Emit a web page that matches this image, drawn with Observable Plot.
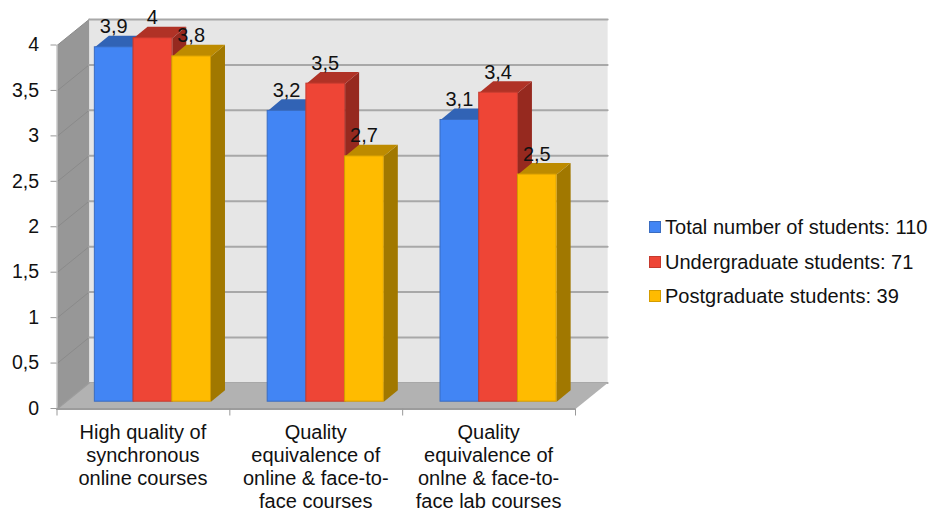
<!DOCTYPE html>
<html>
<head>
<meta charset="utf-8">
<script src="https://cdn.jsdelivr.net/npm/d3@7"></script>
<script src="https://cdn.jsdelivr.net/npm/@observablehq/plot@0.6"></script>
<style>
  html, body { margin: 0; padding: 0; background: #fff; }
  #chart { position: relative; width: 929px; height: 511px; font-family: "Liberation Sans", Arial, sans-serif; color: #111; }
  #chart svg { position: absolute; left: 0; top: 0; background: transparent; }
  .legend { position: absolute; left: 649px; top: 210px; font-size: 20.05px; line-height: 34.5px; white-space: nowrap; }
  .legend div { display: flex; align-items: center; }
  .legend i { display: block; width: 10px; height: 10px; margin-right: 4px; border: 1px solid; box-sizing: content-box; }
</style>
</head>
<body>
<div id="chart"></div>
<script>
const categories = [
  "High quality of\nsynchronous\nonline courses",
  "Quality\nequivalence of\nonline & face-to-\nface courses",
  "Quality\nequivalence of\nonlne & face-to-\nface lab courses"
];
const seriesNames = [
  "Total number of students: 110",
  "Undergraduate students: 71",
  "Postgraduate students: 39"
];
const totalStudents = [3.9, 3.2, 3.1];
const undergraduates = [4, 3.5, 3.4];
const postgraduates = [3.8, 2.7, 2.5];
const seriesValues = [totalStudents, undergraduates, postgraduates];
const valueTicks = [0, 0.5, 1, 1.5, 2, 2.5, 3, 3.5, 4];

const frontColors = ["#4285f4", "#ee4536", "#ffbb00"];
const edgeColors = ["#3a6cc0", "#c53a2e", "#d49c00"];
const topColors = ["#3163b5", "#b03226", "#bd8b00"];
const sideColors = ["#2a5499", "#96291f", "#a17800"];

// Oblique projection: how far one step into the depth of the box moves a point,
// in scale units on each axis.
const boxDepthX = 0.186, boxDepthY = 0.2865;
const barDepthX = 0.081, barDepthY = 0.127;
// Bars stand part of the way into the box, expressed as pixel offsets.
const barInsetX = 9.5, barInsetY = -7.3;
const groupPad = 0.164, barWidth = 0.224;

const decimalComma = d => String(d).replace(".", ",");
const face = (points, fill, extra = {}) =>
  Plot.line(points, {x: "x", y: "y", fill, stroke: "none", ...extra});

// Box walls and floor
const nGroups = categories.length;
const backWall = [[boxDepthX, boxDepthY], [nGroups + boxDepthX, boxDepthY], [nGroups + boxDepthX, 4 + boxDepthY], [boxDepthX, 4 + boxDepthY]];
const sideWall = [[0, 0], [boxDepthX, boxDepthY], [boxDepthX, 4 + boxDepthY], [0, 4]];
const floor = [[0, 0], [nGroups, 0], [nGroups + boxDepthX, boxDepthY], [boxDepthX, boxDepthY]];
const pts = a => a.map(([x, y]) => ({x, y}));

const gridBack = valueTicks.flatMap(v => [
  {x: boxDepthX, y: v + boxDepthY, v},
  {x: nGroups + boxDepthX, y: v + boxDepthY, v}
]);
const gridSide = valueTicks.flatMap(v => [
  {x: 0, y: v, v},
  {x: boxDepthX, y: v + boxDepthY, v}
]);

const barMarks = seriesValues.flatMap((values, s) => {
  const rows = values.map((value, g) => {
    const x1 = g + groupPad + s * barWidth;
    return {g, value, x1, x2: x1 + barWidth};
  });
  const side = rows.flatMap(r => [
    {id: r.g, x: r.x2, y: 0},
    {id: r.g, x: r.x2, y: r.value},
    {id: r.g, x: r.x2 + barDepthX, y: r.value + barDepthY},
    {id: r.g, x: r.x2 + barDepthX, y: barDepthY}
  ]);
  const top = rows.flatMap(r => [
    {id: r.g, x: r.x1, y: r.value},
    {id: r.g, x: r.x1 + barDepthX, y: r.value + barDepthY},
    {id: r.g, x: r.x2 + barDepthX, y: r.value + barDepthY},
    {id: r.g, x: r.x2, y: r.value}
  ]);
  const inset = {dx: barInsetX, dy: barInsetY};
  return [
    face(side, sideColors[s], {z: "id", ...inset}),
    face(top, topColors[s], {z: "id", ...inset}),
    Plot.rect(rows, {x1: "x1", x2: "x2", y1: 0, y2: "value", fill: frontColors[s], stroke: edgeColors[s], strokeWidth: 1, ...inset})
  ];
});

const labelRows = seriesValues.flatMap((values, s) => values.map((value, g) => ({
  value, x: g + groupPad + (s + 0.5) * barWidth
})));

const plot = Plot.plot({
  width: 929,
  height: 511,
  marginLeft: 56.5,
  marginRight: 354,
  marginTop: 45,
  marginBottom: 102.5,
  style: {fontFamily: '"Liberation Sans", Arial, sans-serif', fontSize: "19.5px", background: "transparent", overflow: "visible"},
  x: {domain: [0, nGroups], label: null},
  y: {domain: [0, 4], label: null},
  marks: [
    face(pts(backWall), "#e6e6e6"),
    face(pts(sideWall), "#979797"),
    Plot.line(gridSide, {x: "x", y: "y", z: "v", stroke: "#8a8a8a", strokeWidth: 1}),
    Plot.line(gridBack, {x: "x", y: "y", z: "v", stroke: "#a8a8a8", strokeWidth: 2}),
    face(pts(floor), "#b2b2b2"),
    Plot.ruleX([0], {y1: 0, y2: 4, stroke: "#c8c8c8", strokeWidth: 1.5}),
    Plot.ruleY([0], {stroke: "#9c9c9c", strokeWidth: 2}),
    Plot.line(gridSide.slice(0, 2), {x: "x", y: "y", stroke: "#9c9c9c", strokeWidth: 1.5}),
    ...barMarks,
    Plot.text(labelRows, {x: "x", y: "value", text: d => decimalComma(d.value), lineAnchor: "bottom", dx: barInsetX - 0.5, dy: barInsetY - 14, fill: "#111", fontSize: 20}),
    Plot.axisY({ticks: valueTicks, tickFormat: decimalComma, tickSize: 6, tickPadding: 12, dy: -0.5, stroke: "#999", fill: "#111", label: null}),
    Plot.axisX({ticks: d3.range(nGroups + 1), tickFormat: () => "", tickSize: 7, stroke: "#999", label: null}),
    Plot.axisX({ticks: categories.map((_, i) => i + 0.5), tickFormat: d => categories[d - 0.5], tickSize: 0, tickPadding: 14, lineHeight: 1.15, fontSize: 20, dx: -0.5, fill: "#111", label: null})
  ]
});

const chart = document.getElementById("chart");
chart.append(plot);

const legend = document.createElement("div");
legend.className = "legend";
seriesNames.forEach((name, s) => {
  const row = document.createElement("div");
  const swatch = document.createElement("i");
  swatch.style.background = frontColors[s];
  swatch.style.borderColor = edgeColors[s];
  row.append(swatch, name);
  legend.append(row);
});
chart.append(legend);
</script>
</body>
</html>
